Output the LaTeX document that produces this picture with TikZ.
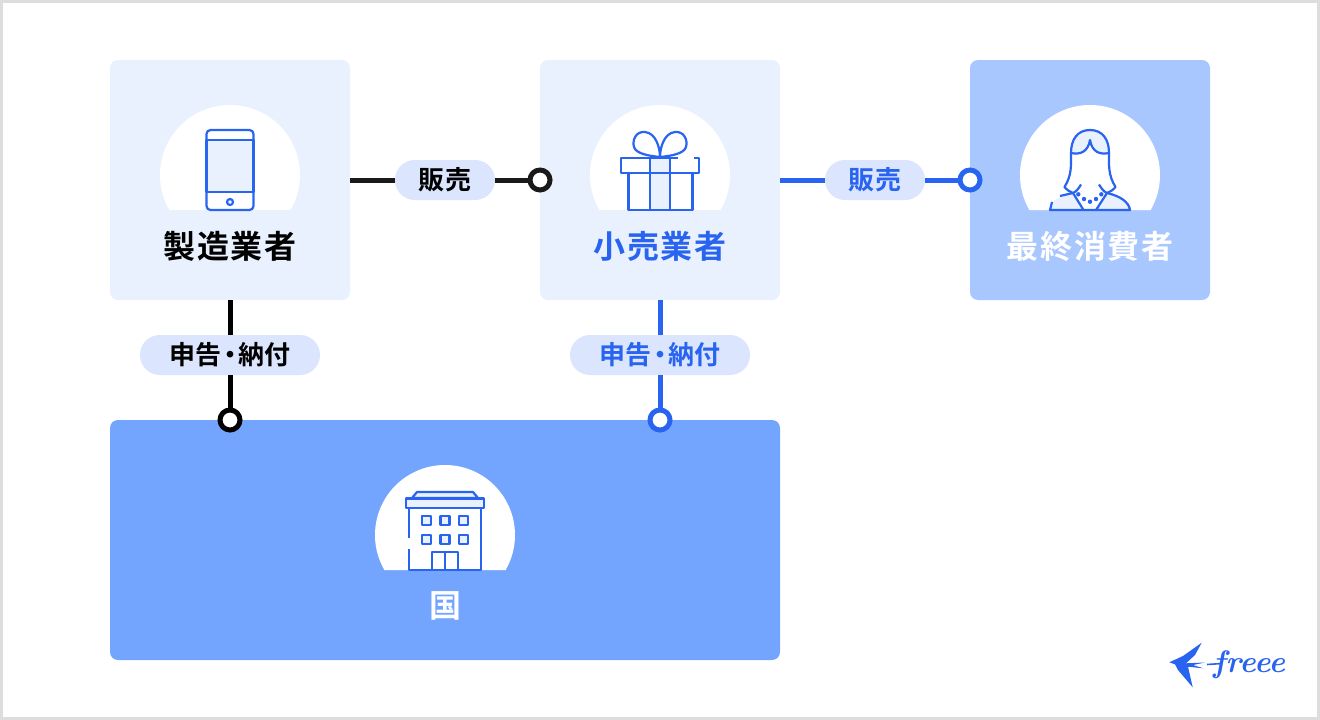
\documentclass[tikz,border=0pt]{standalone}
\usepackage{fontspec}
\newfontfamily\cjkspaced[LetterSpace=6]{Noto Sans CJK JP Bold}
\newfontfamily\cjkpill[LetterSpace=3]{Noto Sans CJK JP Bold}
\definecolor{frame}{HTML}{DDDDDD}
\definecolor{pale}{HTML}{E9F1FE}
\definecolor{mid}{HTML}{A9C7FF}
\definecolor{strong}{HTML}{73A5FF}
\definecolor{pillc}{HTML}{DBE6FE}
\definecolor{fb}{HTML}{2864F0}
\definecolor{ink}{HTML}{1A1A1A}
\tikzset{
  panel/.style={rectangle,rounded corners=8pt,inner sep=0pt,outer sep=0pt},
  pill/.style={rectangle,fill=pillc,rounded corners=19.9pt,minimum height=40pt,inner sep=0pt,outer sep=0pt,font=\cjkpill\fontsize{26}{26}\selectfont},
  ring/.style={circle,draw=#1,fill=white,line width=5pt,minimum size=20pt,inner sep=0pt,outer sep=0pt},
  link/.style={draw=#1,line width=5pt},
  title/.style={inner sep=0pt,font=\cjkspaced\fontsize{32}{32}\selectfont},
  icon/.style={draw=fb,line width=2.2pt,line join=round}
}
\newcommand{\halodisc}[1]{\fill[white] ($(#1)+(-60.62,35)$) arc[start angle=210,end angle=-30,radius=70pt] -- cycle;}
\newcommand{\shinkoku}{申告\kern-5pt・\kern-5pt納付}
\usetikzlibrary{calc}
\begin{document}
\begin{tikzpicture}[x=1pt,y=-1pt]
\useasboundingbox (0,0) rectangle (1320,720);
\fill[frame] (0,0) rectangle (1320,720);
\fill[white] (3,3) rectangle (1317,717);

% panels
\node[panel,fill=pale,minimum width=240pt,minimum height=240pt] (maker) at (230,180) {};
\node[panel,fill=pale,minimum width=240pt,minimum height=240pt] (retail) at (660,180) {};
\node[panel,fill=mid,minimum width=240pt,minimum height=240pt] (consumer) at (1090,180) {};
\node[panel,fill=strong,minimum width=670pt,minimum height=240pt] (state) at (445,540) {};

% halos
\coordinate (h1) at (230,175); \coordinate (h2) at (660,175);
\coordinate (h3) at (1090,175); \coordinate (h4) at (445,535);
\halodisc{h1} \halodisc{h2} \halodisc{h3} \halodisc{h4}

% phone
\filldraw[icon,fill=white,rounded corners=4pt] (206.5,130) rectangle (253.5,210);
\filldraw[icon,fill=pale] (206.5,140) rectangle (253.5,192);
\draw[icon,fill=white] (230,202) circle[radius=3pt];

% gift
\fill[pale] (650,158) rectangle (670,210);
\draw[icon] (628.5,173) -- (628.5,210) -- (692.5,210) -- (692.5,173);
\draw[icon] (650,158) -- (650,210) (670,158) -- (670,210);
\draw[icon] (678,158) -- (621,158) -- (621,173) -- (699,173) -- (699,158) -- (694,158);
\draw[icon] (660,157) .. controls (660,148) and (656,133) .. (645,132)
  .. controls (636,131) and (632,140) .. (634,147) .. controls (636,154) and (650,156) .. (660,157)
  .. controls (670,156) and (684,154) .. (686,147) .. controls (688,140) and (684,131) .. (675,132)
  .. controls (664,133) and (660,148) .. (660,157);

% woman
\fill[pale] (1050,210) -- (1052,202) .. controls (1056,198) and (1066,196) .. (1073,193)
  -- (1083.5,210) -- cycle;
\fill[pale] (1130,210) .. controls (1129,202) and (1120,196) .. (1107,193) -- (1096,210) -- cycle;
\draw[icon] (1052,202) -- (1050,210) -- (1130,210) .. controls (1129,202) and (1120,196) .. (1107,193) -- (1096,210);
\draw[icon] (1083.5,210) -- (1073,193) -- (1060,196);
\filldraw[icon,fill=pale] (1071,153) .. controls (1071,140) and (1077,130) .. (1090,130)
  .. controls (1103,130) and (1109,140) .. (1109,153)
  .. controls (1100,155) and (1092,152) .. (1090,140)
  .. controls (1088,152) and (1080,155) .. (1071,153) -- cycle;
\draw[icon] (1071,153) .. controls (1071,165) and (1072,175) .. (1064.5,187)
  .. controls (1067,190) and (1070,192) .. (1073,193) .. controls (1076,192) and (1079,188) .. (1081,184.5);
\draw[icon] (1109,153) .. controls (1109,165) and (1108,175) .. (1115.5,187)
  .. controls (1113,190) and (1110,192) .. (1107,193) .. controls (1104,192) and (1101,188) .. (1099,184.5);
\foreach \px/\py in {1078.3/194.3,1084/199,1090/201.7,1096/199,1101.3/194.3}
  \fill[fb] (\px,\py) circle[radius=2.2pt];

% building
\filldraw[icon,fill=pale] (412,498) -- (417,492) -- (473,492) -- (478,498) -- cycle;
\draw[icon] (409,508) -- (409,538) (409,549) -- (409,570) -- (481,570) -- (481,508);
\filldraw[icon,fill=pale] (406,498.5) rectangle (484,508);
\foreach \wx in {422,440.5,459} \foreach \wy in {516,535}
  \filldraw[icon,fill=pale] (\wx,\wy) rectangle ++(9,9);
\draw[icon] (432,552) rectangle (458,570) (445,552) -- (445,570);

% rings
\node[ring=ink] (r1) at (540,180) {};
\node[ring=fb] (r2) at (970,180) {};
\node[ring=black] (r3) at (230,420) {};
\node[ring=fb] (r4) at (660,420) {};

% pills
\node[pill,minimum width=100pt,text=black] (p1) at (445,180) {販売};
\node[pill,minimum width=100pt,text=fb] (p2) at (875,180) {販売};
\node[pill,minimum width=180pt,text=black] (p3) at (230,355) {\shinkoku};
\node[pill,minimum width=180pt,text=fb] (p4) at (660,355) {\shinkoku};

% connectors
\draw[link=ink] (maker.east) -- (p1.west);
\draw[link=ink] (p1.east) -- (r1.west);
\draw[link=fb] (retail.east) -- (p2.west);
\draw[link=fb] (p2.east) -- (r2.west);
\draw[link=black] (maker.south) -- (p3.north);
\draw[link=black] (p3.south) -- (r3.north);
\draw[link=fb] (retail.south) -- (p4.north);
\draw[link=fb] (p4.south) -- (r4.north);

% titles
\node[title,text=black] (t1) at (230,246) {製造業者};
\node[title,text=fb] (t2) at (660,246) {小売業者};
\node[title,text=white] (t3) at (1090,246) {最終消費者};
\node[title,text=white] (t4) at (445,606) {国};

% logo
\fill[fb] (1169.3,662.3) -- (1183,656) -- (1201.7,642.7) -- (1195,655) -- (1186,663.3) -- (1205,662.5)
  -- (1193,665) -- (1203.3,668.3) -- (1188,666.7) -- (1192.7,687.3) -- (1178,670) -- (1175,664.3) -- cycle;
\draw[fb,line width=1.6pt] (1207,664.5) -- (1222,663.5);
\node[inner sep=0pt,anchor=base west,text=fb,font=\fontsize{31}{31}\selectfont\bfseries\itshape] (logo) at (1213,672) {freee};
\end{tikzpicture}
\end{document}
